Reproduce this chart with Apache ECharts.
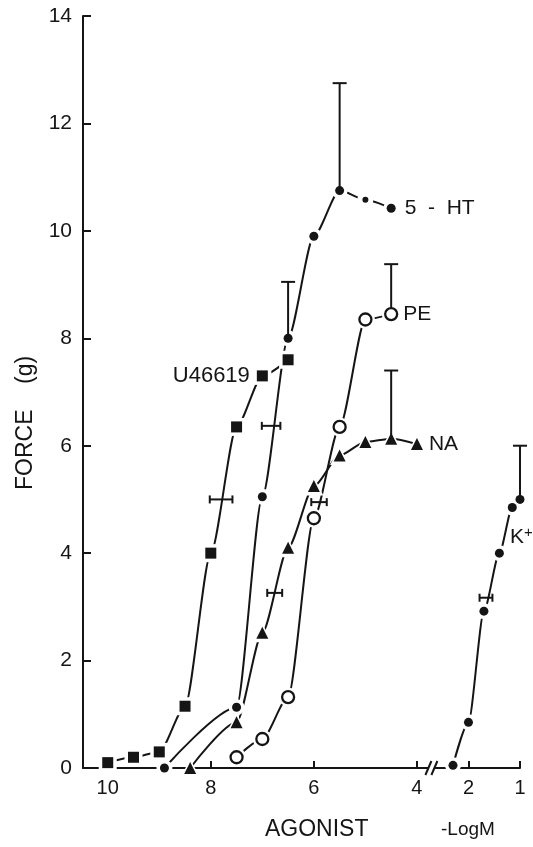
<!DOCTYPE html>
<html>
<head>
<meta charset="utf-8">
<script src="https://cdn.jsdelivr.net/npm/echarts@6/dist/echarts.min.js"></script>
<style>
  html, body { margin: 0; padding: 0; background: #fff; }
  #chart { width: 533px; height: 847px; }
</style>
</head>
<body>
<div id="chart"></div>
<script>
// Concentration (-log M) and developed force (g) for each agonist
const u46619X = [10, 9.5, 9, 8.5, 8, 7.5, 7, 6.5];
const u46619Y = [0.1, 0.2, 0.3, 1.15, 4.0, 6.35, 7.3, 7.6];

const ht5X = [8.9, 7.5, 7, 6.5, 6, 5.5, 5, 4.5];
const ht5Y = [0, 1.13, 5.05, 8.0, 9.9, 10.75, 10.58, 10.42];

const peX = [7.5, 7, 6.5, 6, 5.5, 5, 4.5];
const peY = [0.2, 0.54, 1.32, 4.65, 6.35, 8.35, 8.45];

const naX = [8.4, 7.5, 7, 6.5, 6, 5.5, 5, 4.5, 4];
const naY = [0, 0.85, 2.52, 4.1, 5.25, 5.82, 6.07, 6.13, 6.03];

const kX = [2.3, 2.0, 1.7, 1.4, 1.15, 1.0];
const kY = [0.05, 0.85, 2.92, 4.0, 4.85, 5.0];

// SEM bars: [x, mean, mean + SEM]
const vertErr = [
  [5.5, 10.75, 12.75],
  [6.5, 8.0, 9.05],
  [4.5, 8.45, 9.38],
  [4.5, 6.13, 7.4],
  [1.0, 5.0, 6.0]
];
// SEM of EC50: [EC50, force level, SEM]
const horizErr = [
  [7.8, 5.0, 0.22],
  [6.83, 6.37, 0.18],
  [5.9, 4.95, 0.15],
  [6.76, 3.26, 0.145],
  [1.66, 3.17, 0.125]
];

const xTickValues = [10, 8, 6, 4, 2, 1];
const xTickLabels = ['10', '8', '6', '4', '2', '1'];
const yTickStep = 2;
const BREAK_POS = 6.3;   // axis position of the // break between 4 and 2

// The K+ range (below 3) is drawn after a shortened gap
function axisPos(logM) { return logM >= 3 ? 10 - logM : 9 - logM; }

const INK = '#151515';
const FONT = 'Liberation Sans, Arial, Helvetica, sans-serif';

function pairs(xs, ys) { return xs.map((x, i) => [axisPos(x), ys[i]]); }

function curve(name, xs, ys) {
  return {
    type: 'line', name, data: pairs(xs, ys), showSymbol: false,
    smooth: 0.25, smoothMonotone: 'x', z: 2, silent: true,
    lineStyle: { color: INK, width: 2 }
  };
}

// White halo under markers gives the broken-line look near each point
function halo(xs, ys, symbol, size) {
  return {
    type: 'scatter', data: pairs(xs, ys), symbol, symbolSize: size + 7, z: 3, silent: true,
    itemStyle: { color: '#fff', opacity: 1 }
  };
}

function markers(xs, ys, symbol, size, opts) {
  opts = opts || {};
  const data = pairs(xs, ys).map((p, i) => {
    const item = { value: p };
    if (opts.sizes && opts.sizes[i]) item.symbolSize = opts.sizes[i];
    if (opts.labelIndex === i) {
      item.label = Object.assign({
        show: true, formatter: opts.label, color: INK,
        fontFamily: FONT, fontSize: 21
      }, opts.labelStyle);
    }
    return item;
  });
  return {
    type: 'scatter', data, symbol, symbolSize: size, z: 5, silent: true,
    itemStyle: opts.open
      ? { color: '#fff', borderColor: INK, borderWidth: 2.3, opacity: 1 }
      : { color: INK, opacity: 1 }
  };
}

const chart = echarts.init(document.getElementById('chart'), null, { renderer: 'canvas' });

const labelMap = {};
xTickValues.forEach((v, i) => { labelMap[axisPos(v)] = xTickLabels[i]; });

const option = {
  animation: false,
  backgroundColor: '#fff',
  grid: { left: 83, right: 13, top: 16, bottom: 79, containLabel: false },
  xAxis: {
    type: 'value', min: -0.48, max: axisPos(1),
    axisLine: { show: true, onZero: false, lineStyle: { color: INK, width: 2 } },
    axisTick: { show: true, inside: true, length: 7, lineStyle: { color: INK, width: 2 },
      customValues: xTickValues.map(axisPos) },
    axisLabel: { show: true, color: INK, fontFamily: FONT, fontSize: 20, margin: 10,
      customValues: xTickValues.map(axisPos),
      formatter: v => labelMap[v] !== undefined ? labelMap[v] : '' },
    splitLine: { show: false }
  },
  yAxis: {
    type: 'value', min: 0, max: 14, interval: yTickStep,
    axisLine: { show: true, onZero: false, lineStyle: { color: INK, width: 2 } },
    axisTick: { show: true, inside: true, length: 8, lineStyle: { color: INK, width: 2 } },
    axisLabel: { color: INK, fontFamily: FONT, fontSize: 21, margin: 11 },
    splitLine: { show: false }
  },
  graphic: [
    { type: 'text', left: 265, top: 818,
      style: { text: 'AGONIST', fill: INK, font: '23px ' + FONT } },
    { type: 'text', left: 441, top: 820,
      style: { text: '-LogM', fill: INK, font: '19px ' + FONT } },
    { type: 'text', x: 14, y: 490, rotation: Math.PI / 2,
      style: { text: 'FORCE    (g)', fill: INK, font: '23px ' + FONT } }
  ],
  series: [
    curve('U46619', u46619X, u46619Y),
    curve('5-HT', ht5X, ht5Y),
    curve('PE', peX, peY),
    curve('NA', naX, naY),
    curve('K+', kX, kY),

    halo(u46619X, u46619Y, 'rect', 11),
    halo(ht5X, ht5Y, 'circle', 9),
    halo(peX, peY, 'circle', 12),
    halo(naX, naY, 'triangle', 12),
    halo(kX, kY, 'circle', 9),

    {
      type: 'custom', z: 4, silent: true, clip: false,
      data: vertErr.map(d => [axisPos(d[0]), d[1], d[2]]),
      renderItem: (params, api) => {
        const a = api.coord([api.value(0), api.value(1)]);
        const b = api.coord([api.value(0), api.value(2)]);
        const st = { stroke: INK, lineWidth: 2 };
        return { type: 'group', children: [
          { type: 'line', shape: { x1: a[0], y1: a[1], x2: b[0], y2: b[1] }, style: st },
          { type: 'line', shape: { x1: b[0] - 7, y1: b[1], x2: b[0] + 7, y2: b[1] }, style: st }
        ] };
      }
    },
    {
      type: 'custom', z: 4, silent: true, clip: false,
      data: horizErr.map(d => [axisPos(d[0] + d[2]), axisPos(d[0] - d[2]), d[1]]),
      renderItem: (params, api) => {
        const a = api.coord([api.value(0), api.value(2)]);
        const b = api.coord([api.value(1), api.value(2)]);
        const st = { stroke: INK, lineWidth: 2 };
        return { type: 'group', children: [
          { type: 'line', shape: { x1: a[0], y1: a[1], x2: b[0], y2: b[1] }, style: st },
          { type: 'line', shape: { x1: a[0], y1: a[1] - 4, x2: a[0], y2: a[1] + 4 }, style: st },
          { type: 'line', shape: { x1: b[0], y1: b[1] - 4, x2: b[0], y2: b[1] + 4 }, style: st }
        ] };
      }
    },
    {
      // axis break
      type: 'custom', z: 6, silent: true, clip: false,
      data: [[BREAK_POS, 0]],
      renderItem: (params, api) => {
        const c = api.coord([api.value(0), api.value(1)]);
        const st = { stroke: INK, lineWidth: 2 };
        return { type: 'group', children: [
          { type: 'polygon', shape: { points: [[c[0] - 6, c[1] + 6], [c[0] - 1, c[1] - 6], [c[0] + 4, c[1] - 6], [c[0] - 1, c[1] + 6]] },
            style: { fill: '#fff' } },
          { type: 'line', shape: { x1: c[0] - 7, y1: c[1] + 7, x2: c[0] - 1, y2: c[1] - 7 }, style: st },
          { type: 'line', shape: { x1: c[0] - 1, y1: c[1] + 7, x2: c[0] + 5, y2: c[1] - 7 }, style: st }
        ] };
      }
    },

    markers(u46619X, u46619Y, 'rect', 11, { labelIndex: 6, label: 'U46619',
      labelStyle: { position: 'left', distance: 7, fontSize: 22 } }),
    markers(ht5X, ht5Y, 'circle', 9, { sizes: [0, 0, 0, 0, 0, 0, 6, 0], labelIndex: 7, label: '5  -  HT',
      labelStyle: { position: 'right', distance: 9 } }),
    markers(peX, peY, 'circle', 12, { open: true, labelIndex: 6, label: 'PE',
      labelStyle: { position: 'right', distance: 5 } }),
    markers(naX, naY, 'triangle', 12, { labelIndex: 8, label: 'NA',
      labelStyle: { position: 'right', distance: 6 } }),
    markers(kX, kY, 'circle', 9, { labelIndex: 3, label: 'K{s|+}',
      labelStyle: { position: 'right', distance: 6, offset: [0, -16],
        rich: { s: { fontSize: 15, verticalAlign: 'top', color: INK, fontFamily: FONT, padding: [0, 0, 8, 0] } } } })
  ]
};

chart.setOption(option);
</script>
</body>
</html>
